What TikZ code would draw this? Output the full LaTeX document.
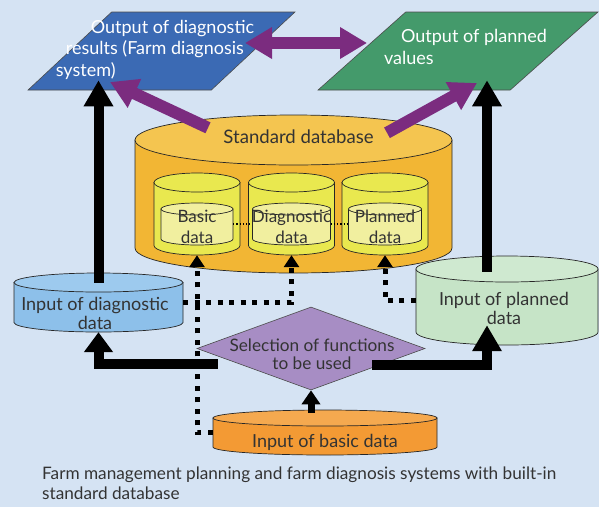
\documentclass[tikz,border=0pt]{standalone}
\usepackage{fontspec}
\setmainfont{Lato}
\usetikzlibrary{shapes.geometric,arrows.meta}

\definecolor{bgblue}{HTML}{D5E3F3}
\definecolor{txtgray}{HTML}{333333}
\definecolor{diagblue}{HTML}{3B6AB4}
\definecolor{plangreen}{HTML}{449A6B}
\definecolor{arrowpurple}{HTML}{7B2C7F}
\definecolor{stdbody}{HTML}{F2B634}
\definecolor{stdtop}{HTML}{F4C550}
\definecolor{subyellow}{HTML}{E9E84F}
\definecolor{subinner}{HTML}{F1EF9F}
\definecolor{indiagbody}{HTML}{8DC0EA}
\definecolor{indiagtop}{HTML}{9DCAEE}
\definecolor{inplanbody}{HTML}{C6E4C7}
\definecolor{inplantop}{HTML}{CFE9D0}
\definecolor{inbasicbody}{HTML}{F39A34}
\definecolor{inbasictop}{HTML}{F5A94F}
\definecolor{selpurple}{HTML}{A78DC4}

\tikzset{
  cylline/.style={draw=black!85, line width=0.7pt},
  lbl/.style={text=txtgray, align=center, inner sep=0pt, font=\fontsize{18}{19}\selectfont},
  sublbl/.style={text=txtgray, align=center, inner sep=0pt, font=\fontsize{17}{21}\selectfont},
  outbox/.style={trapezium, trapezium left angle=50, trapezium right angle=130,
    trapezium stretches=true, draw=black!70, line width=0.6pt, inner sep=2pt,
    minimum height=78pt},
  outtext/.style={text=white, align=left, inner sep=0pt, font=\fontsize{18}{21.5}\selectfont},
  bigarrow/.style={line width=10pt, -{Triangle[width=28pt,length=26pt]}},
  smallarrow/.style={line width=7pt, -{Triangle[width=18pt,length=14pt]}},
  purplearrow/.style={arrowpurple, line width=12pt, -{Triangle[width=30pt,length=27pt]}},
  dotarrow/.style={line width=5pt, dash pattern=on 5pt off 6.5pt,
    -{Triangle[width=15pt,length=12pt]}},
  thindots/.style={line width=1.2pt, dotted},
}

% cylinder: name, cx, cy, width, height, end radius, body colour, top colour
\newcommand{\datacyl}[8]{%
  \filldraw[cylline, fill=#7] ({#2-#4/2},{#3-#5/2+#6}) -- ({#2-#4/2},{#3+#5/2-#6})
    arc[start angle=180, end angle=0, x radius=#4/2, y radius=#6]
    -- ({#2+#4/2},{#3-#5/2+#6}) -- cycle;
  \filldraw[cylline, fill=#8] (#2,{#3-#5/2+#6}) ellipse[x radius=#4/2, y radius=#6];
  \node[minimum width=#4pt, minimum height=#5pt, inner sep=0pt] (#1) at (#2,#3) {};
}

\begin{document}
\begin{tikzpicture}[x=1pt,y=-1pt]
\fill[bgblue] (0,0) rectangle (599,507);
\useasboundingbox (0,0) rectangle (599,507);

% output boxes
\node[outbox, fill=diagblue, minimum width=267pt] (outDiag) at (161.5,51) {};
\node[outbox, fill=plangreen, minimum width=280pt] (outPlan) at (458,51) {};
\node[outtext] (outDiagText) at (155,49.5) {\hspace*{35pt}Output of diagnostic\\\hspace*{10pt}results (Farm diagnosis\\system)};
\node[outtext] (outPlanText) at (465.5,47) {\hspace*{17pt}Output of planned\\values};

% standard database with its three parts
\datacyl{stdDB}{293.5}{194}{317}{158}{25}{stdbody}{stdtop}
\node[lbl, font=\fontsize{18.6}{20}\selectfont] (stdText) at (298.5,137) {Standard database};
\foreach \nm/\cx/\iw in {basic/197/72,diag/291.5/78,plan/385/73}{
  \datacyl{\nm}{\cx}{214}{86}{82}{9.5}{subyellow}{subyellow}
  \datacyl{\nm In}{\cx}{224}{\iw}{42}{6}{subinner}{subinner}
}
\node[sublbl] (basicText) at (197,226.5) {Basic\\data};
\node[sublbl] (diagText) at (291.5,226.5) {Diagnostic\\data};
\node[sublbl] (planText) at (385,226.5) {Planned\\data};
\draw[thindots] (basicIn) -- (diagIn);
\draw[thindots] (diagIn) -- (planIn);

% inputs
\datacyl{inDiag}{98.5}{302.5}{169}{59}{9.5}{indiagbody}{indiagtop}
\node[lbl] (inDiagText) at (95,313) {Input of diagnostic\\data};
\datacyl{inPlan}{507}{300.5}{182}{89}{13}{inplanbody}{inplantop}
\node[lbl] (inPlanText) at (504,308.5) {Input of planned\\data};
\datacyl{inBasic}{325}{432.5}{224}{45}{8}{inbasicbody}{inbasictop}
\node[lbl] (inBasicText) at (325,442) {Input of basic data};

% selection
\node[diamond, fill=selpurple, draw=black!70, line width=0.6pt, inner sep=1pt,
  minimum width=228pt, minimum height=83pt] (sel) at (311,348.5) {};
\node[lbl, font=\fontsize{17.2}{18}\selectfont] (selText) at (312,354) {Selection of functions\\to be used};

% dotted links into the database
\draw[dotarrow] (inBasic) -| (basic);
\draw[dotarrow] (inDiag) -| (diag);
\draw[dotarrow] (inPlan) -| (plan);

% black flows
\coordinate (planUp) at ([xshift=-20pt]inPlan.north);
\coordinate (selL) at ([xshift=21pt,yshift=-15pt]sel.west);
\coordinate (selR) at ([xshift=-53pt,yshift=-16pt]sel.east);
\draw[bigarrow, shorten <=-10pt, shorten >=-10pt] (inDiag.north) -- (inDiag.north |- outDiag.south);
\draw[bigarrow, shorten <=-16pt, shorten >=-10pt] (planUp) -- (planUp |- outPlan.south);
\draw[bigarrow, -{Triangle[width=28pt,length=20pt]}] (selL) -| (inDiag.south);
\draw[bigarrow, shorten >=-20pt] (selR) -| (planUp |- inPlan.south);
\draw[smallarrow, shorten <=-3pt] (sel.south |- inBasic.north) -- (sel.south);

% purple flows
\draw[purplearrow, {Triangle[width=30pt,length=27pt]}-{Triangle[width=30pt,length=27pt]}]
  ([xshift=83.5pt,yshift=8pt]outDiag.center) -- ([xshift=-91pt,yshift=8pt]outPlan.center);
\draw[purplearrow] ([xshift=-85.5pt,yshift=-13pt]stdDB.north) -- ([xshift=-51.5pt,yshift=-31pt]outDiag.center);
\draw[purplearrow] ([xshift=93.5pt,yshift=-18pt]stdDB.north) -- ([xshift=19pt,yshift=-32pt]outPlan.center);

% caption
\node[lbl, anchor=north west, align=left, font=\fontsize{17.2}{20}\selectfont] (caption) at (42,467)
  {Farm management planning and farm diagnosis systems with built-in\\standard database};
\end{tikzpicture}
\end{document}
